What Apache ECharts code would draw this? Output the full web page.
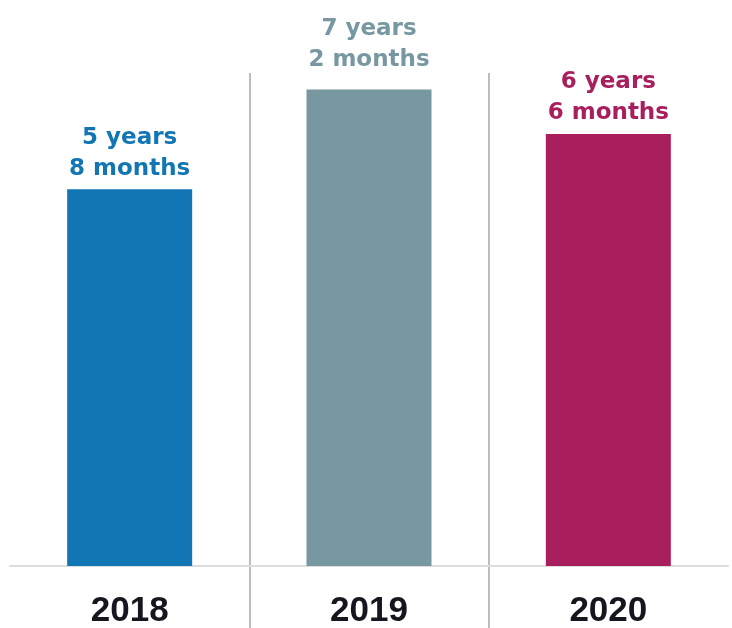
<!DOCTYPE html>
<html>
<head>
<meta charset="utf-8">
<script src="https://cdn.jsdelivr.net/npm/echarts@6/dist/echarts.min.js"></script>
<style>
  html, body { margin: 0; padding: 0; background: #ffffff; }
  #chart { width: 732px; height: 628px; }
</style>
</head>
<body>
<div id="chart"></div>
<script>
// Average tenure per year, in months
const years = ['2018', '2019', '2020'];
const tenureMonths = [68, 86, 78];
const barColors = ['#1376b4', '#7797a1', '#a91e5d'];
const labelGaps = [5, 14, 5];

function tenureText(m) {
  return Math.floor(m / 12) + ' years\n' + (m % 12) + ' months';
}

const chart = echarts.init(document.getElementById('chart'), null, { renderer: 'canvas' });

chart.setOption({
  backgroundColor: '#ffffff',
  animation: false,
  grid: { left: 10, right: 4, top: 73, bottom: 0, containLabel: false, outerBoundsMode: 'none' },
  xAxis: {
    type: 'category',
    data: years,
    axisLine: { show: true, onZero: true, lineStyle: { color: '#dddddd', width: 2 } },
    axisTick: { show: false },
    axisLabel: {
      margin: -34,
      color: '#16161f',
      fontFamily: '"Liberation Sans", Arial, sans-serif',
      fontWeight: 'bold',
      fontSize: 35
    },
    splitLine: {
      show: true,
      showMinLine: false,
      showMaxLine: false,
      lineStyle: { color: '#bdbdbd', width: 2 }
    }
  },
  yAxis: {
    type: 'value',
    min: -11.2,
    max: 89,
    show: false,
    splitLine: { show: false }
  },
  series: [{
    type: 'bar',
    barWidth: 125,
    data: tenureMonths.map((v, i) => ({
      value: v,
      itemStyle: { color: barColors[i] },
      label: { color: barColors[i], distance: labelGaps[i] }
    })),
    label: {
      show: true,
      position: 'top',
      fontFamily: '"DejaVu Sans", Verdana, sans-serif',
      fontWeight: 'bold',
      fontSize: 23,
      lineHeight: 31,
      align: 'center',
      formatter: p => tenureText(p.value)
    }
  }]
});
</script>
</body>
</html>
